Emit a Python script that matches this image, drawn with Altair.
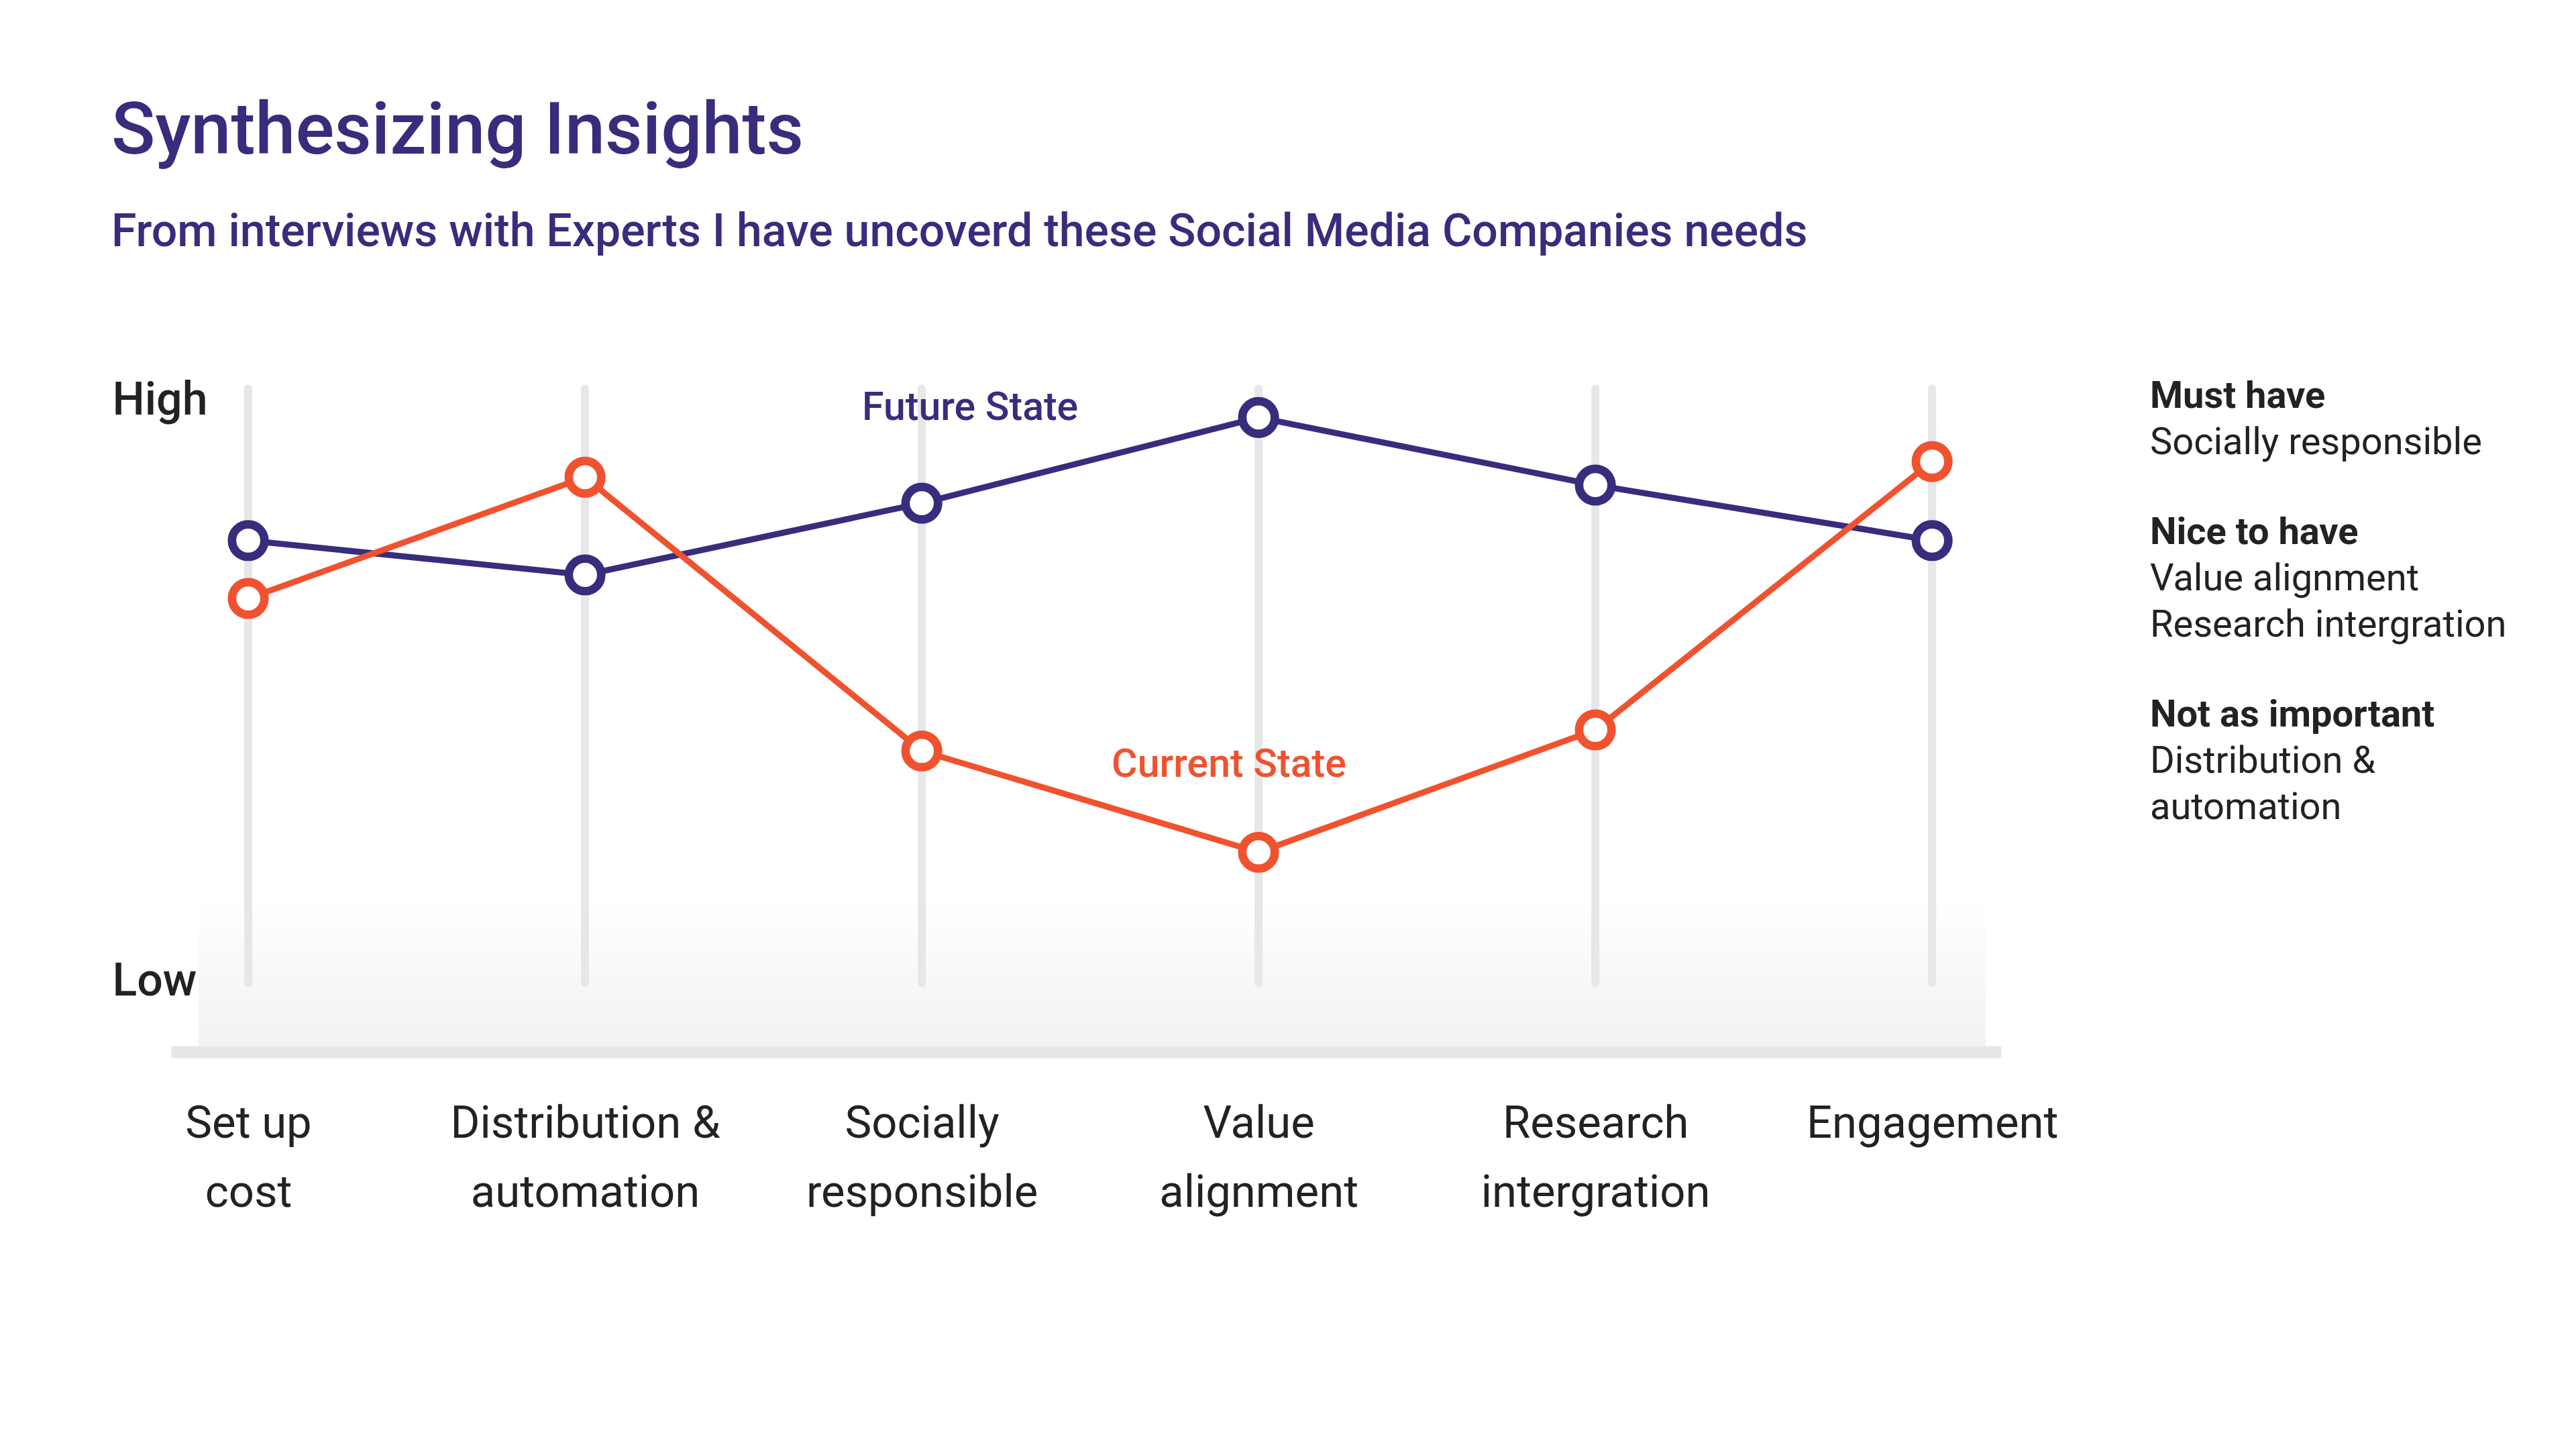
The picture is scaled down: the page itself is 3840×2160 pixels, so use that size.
import altair as alt
import pandas as pd

# ---------------- data ----------------
categories = ["Set up cost", "Distribution & automation", "Socially responsible",
              "Value alignment", "Research intergration", "Engagement"]
future_state = [74.1, 68.4, 80.3, 94.5, 83.3, 74.1]
current_state = [64.5, 84.6, 39.2, 22.4, 42.7, 87.2]
series_names = ["Future State", "Current State"]
series_colors = ["#372d7d", "#f0522f"]
level_labels = ["High", "Low"]
level_values = [97.3, 0.9]
legend_groups = [
    ("Must have", ["Socially responsible"]),
    ("Nice to have", ["Value alignment", "Research intergration"]),
    ("Not as important", ["Distribution &", "automation"]),
]
title_text = "Synthesizing Insights"
subtitle_text = "From interviews with Experts I have uncoverd these Social Media Companies needs"

# ---------------- tables ----------------
df = pd.DataFrame({
    "category": categories * 2,
    "value": future_state + current_state,
    "series": [series_names[0]] * len(categories) + [series_names[1]] * len(categories),
})
cat_df = pd.DataFrame({"category": categories})

NAVY, ORANGE, INK = series_colors[0], series_colors[1], "#222222"
FONT = "Roboto"

x_scale = alt.Scale(type="point", domain=categories, padding=0.217, align=0.528)
y_scale = alt.Scale(domain=[-10.7, 102], nice=False, zero=False)
color_scale = alt.Scale(domain=series_names, range=series_colors)

split_expr = ("lastindexof(datum.label, ' ') > 0 ? "
              "[substring(datum.label, 0, lastindexof(datum.label, ' ')), "
              "substring(datum.label, lastindexof(datum.label, ' ') + 1)] : datum.label")

x_enc = alt.X("category:N", scale=x_scale, sort=categories,
              axis=alt.Axis(title=None, ticks=False, tickSize=0, grid=False,
                            domain=True, domainColor="#e5e6e8", domainWidth=18,
                            domainCap="butt", labelAngle=0, labelFont=FONT,
                            labelFontSize=67, labelColor=INK, labelPadding=74,
                            labelLineHeight=103, labelBaseline="top",
                            labelAlign="center", labelExpr=split_expr,
                            labelOverlap=False, labelLimit=0))

level_expr = f"datum.value == {level_values[0]} ? '{level_labels[0]}' : '{level_labels[1]}'"
y_enc = alt.Y("value:Q", scale=y_scale,
              axis=alt.Axis(title=None, values=level_values, labelExpr=level_expr,
                            domain=False, ticks=False, tickSize=0, grid=False,
                            labelAlign="left", labelPadding=88, labelFont=FONT,
                            labelFontSize=68, labelFontWeight=500, labelColor=INK,
                            labelBaseline="middle", labelLimit=0))

# background gradient band
band = alt.Chart(cat_df.head(1)).mark_rect(
    fill=alt.Gradient(gradient="linear",
                      stops=[alt.GradientStop(color="#ffffff", offset=0),
                             alt.GradientStop(color="#f2f2f2", offset=1)],
                      x1=0, x2=0, y1=0, y2=1)
).encode(x=alt.value(41), x2=alt.value(2705), y=alt.value(785), y2=alt.value(1004))

grid = alt.Chart(cat_df).mark_rule(strokeWidth=12, strokeCap="round", color="#e6e7e9").encode(
    x=x_enc, y=alt.datum(0.7), y2=alt.datum(99.3))

lines = alt.Chart(df).mark_line(strokeWidth=9).encode(
    x=x_enc, y=y_enc,
    color=alt.Color("series:N", scale=color_scale, legend=None),
    detail="series:N")

points = alt.Chart(df).mark_point(shape="circle", fill="white", fillOpacity=1, opacity=1,
                                  strokeWidth=12.7, size=2350).encode(
    x=x_enc, y=y_enc,
    stroke=alt.Stroke("series:N", scale=color_scale, legend=None))

future_label = alt.Chart(pd.DataFrame({"t": [series_names[0]]})).mark_text(
    align="left", baseline="alphabetic", dx=-89, font=FONT, fontSize=59,
    fontWeight=500, color=NAVY
).encode(x=alt.datum(categories[2]), y=alt.datum(94.1), text="t:N")

current_label = alt.Chart(pd.DataFrame({"t": [series_names[1]]})).mark_text(
    align="left", baseline="alphabetic", dx=-219, font=FONT, fontSize=59,
    fontWeight=500, color=ORANGE
).encode(x=alt.datum(categories[3]), y=alt.datum(34.9), text="t:N")

# right-hand key
key_layers = []
row = 0
for g, (head, items) in enumerate(legend_groups):
    for i, line in enumerate([head] + items):
        key_layers.append(
            alt.Chart(pd.DataFrame({"t": [line]})).mark_text(
                align="left", baseline="alphabetic", font=FONT, fontSize=56,
                fontWeight="bold" if i == 0 else "normal", color=INK
            ).encode(x=alt.value(2950), y=alt.value(53 + 69 * row + 65 * g), text="t:N")
        )
        row += 1

chart = alt.layer(band, grid, lines, points, future_label, current_label, *key_layers).properties(
    width=2728, height=1013,
    padding={"left": 247, "top": 547, "right": 849, "bottom": 584},
    autosize=alt.AutoSizeParams(type="none"),
    title=alt.TitleParams(text=title_text, subtitle=subtitle_text, anchor="start",
                          frame="group", dx=-89, offset=173, subtitlePadding=61,
                          font=FONT, fontSize=108, fontWeight=500, color=NAVY,
                          subtitleFont=FONT, subtitleFontSize=68,
                          subtitleFontWeight=500, subtitleColor=NAVY),
    background="white",
).configure_view(stroke=None)

chart.save("out.html", embed_options={"renderer": "svg", "actions": False})
